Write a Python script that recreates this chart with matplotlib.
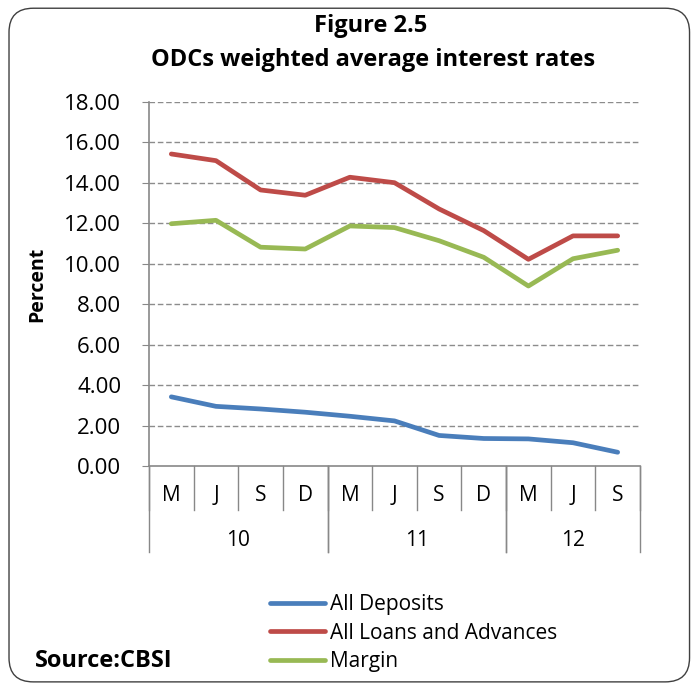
import matplotlib
matplotlib.use("Agg")
import matplotlib.pyplot as plt
from matplotlib.patches import FancyBboxPatch

plt.rcParams['font.family'] = ['Open Sans', 'DejaVu Sans']

months = ["M", "J", "S", "D", "M", "J", "S", "D", "M", "J", "S"]
years = ["10", "11", "12"]
year_spans = [(0, 3), (4, 7), (8, 10)]
deposits = [3.42, 2.95, 2.82, 2.66, 2.46, 2.23, 1.51, 1.36, 1.34, 1.15, 0.68]
loans = [15.43, 15.10, 13.65, 13.39, 14.28, 14.01, 12.71, 11.64, 10.22, 11.38, 11.38]
margin = [11.98, 12.15, 10.82, 10.73, 11.87, 11.79, 11.14, 10.32, 8.90, 10.25, 10.67]
yticks = [0, 2, 4, 6, 8, 10, 12, 14, 16, 18]

fig = plt.figure(figsize=(6.93, 6.86), dpi=100)

# rounded frame around the whole figure
frame = FancyBboxPatch((0.013, 0.006), 0.982, 0.982,
                       boxstyle="round,pad=0,rounding_size=0.035",
                       transform=fig.transFigure, facecolor="white",
                       edgecolor="#404040", linewidth=1.0, zorder=-5)
fig.patches.append(frame)

ax = fig.add_axes([0.215, 0.3207, 0.7085, 0.5306])
ax.set_zorder(2)
ax.set_facecolor("none")
x = list(range(len(months)))

ax.plot(x, deposits, color="#4A7EBB", lw=3.4, label="All Deposits", solid_capstyle="round")
ax.plot(x, loans, color="#BE4B48", lw=3.4, label="All Loans and Advances", solid_capstyle="round")
ax.plot(x, margin, color="#98B954", lw=3.4, label="Margin", solid_capstyle="round")

ax.set_xlim(-0.5, len(months) - 0.5)
ax.set_ylim(0, 18)
ax.set_yticks(yticks)
ax.set_yticklabels([f"{v:.2f}" for v in yticks], fontsize=16)
ax.tick_params(axis="y", length=5, color="#888888", pad=15)
ax.set_xticks([])
for yv in yticks[1:]:
    ax.axhline(yv, color="#8c8c8c", lw=1.0, ls=(0, (4, 2)), zorder=0)

for s in ["top", "right"]:
    ax.spines[s].set_visible(False)
for s in ["left", "bottom"]:
    ax.spines[s].set_color("#888888")
    ax.spines[s].set_linewidth(1.2)

ax.set_ylabel("Percent", fontsize=14, fontweight="bold", labelpad=12)

# two-level category axis
tr = ax.get_xaxis_transform()
for i in range(len(months) + 1):
    ax.plot([i - 0.5, i - 0.5], [0, -0.121], transform=tr, color="#888888",
            lw=1.0, clip_on=False)
for i, m in enumerate(months):
    ax.text(i, -0.08, m, transform=tr, ha="center", va="center", fontsize=15)
for (a, b), yl in zip(year_spans, years):
    for edge in (a - 0.5, b + 0.5):
        ax.plot([edge, edge], [0, -0.236], transform=tr, color="#888888",
                lw=1.0, clip_on=False)
    ax.text((a + b) / 2, -0.204, yl, transform=tr, ha="center", va="center", fontsize=15)

fig.text(0.535, 0.962, "Figure 2.5", ha="center", va="center", fontsize=17, fontweight="bold")
fig.text(0.538, 0.912, "ODCs weighted average interest rates", ha="center", va="center",
         fontsize=17, fontweight="bold")

leg = fig.legend(loc="upper left", bbox_to_anchor=(0.39, 0.134), frameon=False,
                 fontsize=15, handlelength=2.64, handletextpad=0.25, labelspacing=0.36,
                 borderaxespad=0, borderpad=0)

fig.text(0.05, 0.037, "Source:CBSI", ha="left", va="center", fontsize=17, fontweight="bold")

fig.savefig("out.png", dpi=100)
